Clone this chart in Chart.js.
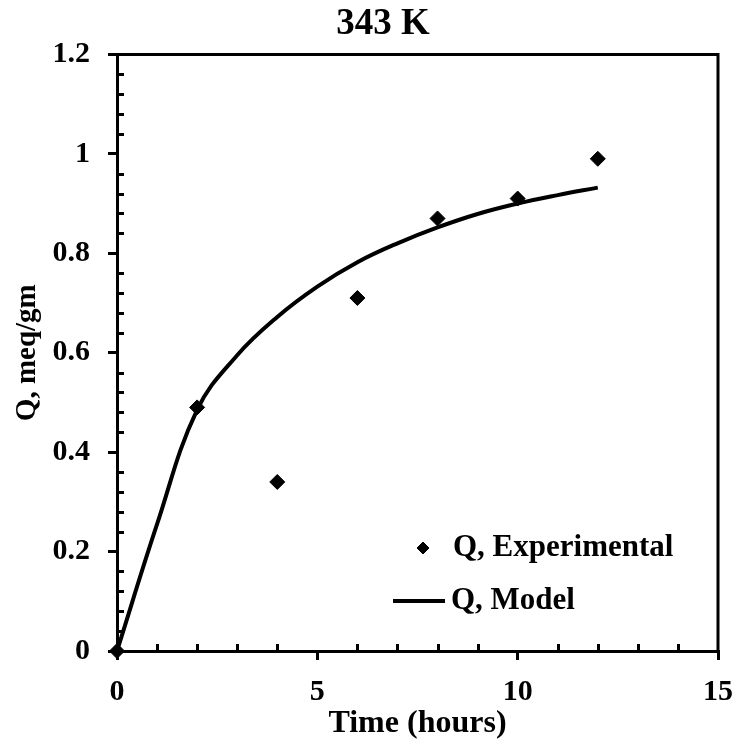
<!DOCTYPE html>
<html>
<head>
<meta charset="utf-8">
<script src="https://cdn.jsdelivr.net/npm/chart.js@4.4.1/dist/chart.umd.min.js"></script>
<style>
  html, body { margin: 0; padding: 0; background: #fff; }
</style>
</head>
<body>
<canvas id="qChart" width="740" height="750"></canvas>
<script>
// experimental points
const timeExp = [0, 2, 4, 6, 8, 10, 12];
const qExp = [0, 0.49, 0.34, 0.71, 0.87, 0.91, 0.99];

// model curve
const timeModel = [0, 1, 2, 3, 4, 5, 6, 7, 8, 9, 10, 11, 12];
const qModel = [0, 0.255, 0.485, 0.595, 0.672, 0.733, 0.782, 0.82, 0.852, 0.879, 0.9, 0.917, 0.932];

const xTicks = [0, 5, 10, 15];
const yTicks = [0, 0.2, 0.4, 0.6, 0.8, 1, 1.2];
const xMinorStep = 1;
const yMinorStep = 0.04;

const FONT = '"Liberation Serif", "Times New Roman", serif';

// minor ticks (inside), top/right frame, legend inside the plot
const extras = {
  id: 'extras',
  beforeDatasetsDraw(chart) {
    const { ctx, chartArea: a, scales: { x, y } } = chart;
    ctx.save();
    ctx.strokeStyle = '#000';
    ctx.lineWidth = 3;
    ctx.beginPath();
    for (let v = yMinorStep; v < 1.2 - 1e-6; v += yMinorStep) {
      if (Math.abs(v / 0.2 - Math.round(v / 0.2)) < 1e-6) continue;
      const py = Math.round(y.getPixelForValue(v)) + 0.5;
      ctx.moveTo(a.left, py);
      ctx.lineTo(a.left + 7, py);
    }
    for (let v = xMinorStep; v < 15; v += xMinorStep) {
      if (v % 5 === 0) continue;
      const px = Math.round(x.getPixelForValue(v)) + 0.5;
      ctx.moveTo(px, a.bottom);
      ctx.lineTo(px, a.bottom - 7);
    }
    // frame
    ctx.moveTo(a.left, a.top);
    ctx.lineTo(a.right, a.top);
    ctx.lineTo(a.right, a.bottom);
    ctx.stroke();
    ctx.restore();
  },
  afterDraw(chart) {
    const { ctx, chartArea: a } = chart;
    ctx.save();
    ctx.fillStyle = '#000';
    ctx.strokeStyle = '#000';
    ctx.font = 'bold 31px ' + FONT;
    ctx.textBaseline = 'middle';
    ctx.textAlign = 'left';
    const r1 = a.bottom - 103, r2 = a.bottom - 50;
    Chart.helpers.drawPoint(ctx, { pointStyle: 'rectRot', radius: 6, borderWidth: 1 }, a.left + 306, r1);
    ctx.fill();
    ctx.fillText('Q, Experimental', a.left + 336, r1);
    ctx.lineWidth = 4;
    ctx.beginPath();
    ctx.moveTo(a.left + 276, r2);
    ctx.lineTo(a.left + 328, r2);
    ctx.stroke();
    ctx.fillText('Q, Model', a.left + 334, r2);
    ctx.restore();
  }
};

new Chart(document.getElementById('qChart'), {
  type: 'scatter',
  data: {
    datasets: [
      {
        label: 'Q, Model',
        data: timeModel.map((t, i) => ({ x: t, y: qModel[i] })),
        showLine: true,
        borderColor: '#000',
        borderWidth: 4,
        pointRadius: 0,
        tension: 0.4,
        clip: 10,
      },
      {
        label: 'Q, Experimental',
        data: timeExp.map((t, i) => ({ x: t, y: qExp[i] })),
        pointStyle: 'rectRot',
        pointRadius: 7.5,
        backgroundColor: '#000',
        borderColor: '#000',
        borderWidth: 1,
        clip: 12,
      },
    ],
  },
  plugins: [extras],
  options: {
    responsive: false,
    animation: false,
    devicePixelRatio: 1,
    layout: { padding: { left: 48, right: 22, top: 0, bottom: 0 } },
    plugins: {
      legend: { display: false },
      tooltip: { enabled: false },
      title: {
        display: true,
        text: '343 K',
        color: '#000',
        font: { family: FONT, size: 37, weight: 'bold', lineHeight: 1.2 },
        padding: { top: 2, bottom: 8 },
      },
    },
    scales: {
      x: {
        type: 'linear',
        min: 0,
        max: 15,
        afterBuildTicks: (s) => { s.ticks = xTicks.map((v) => ({ value: v })); },
        afterFit: (s) => { s.height = 99; s.paddingRight = 0; s.paddingLeft = 0; },
        ticks: {
          color: '#000',
          padding: 14,
          maxRotation: 0,
          font: { family: FONT, size: 30, weight: 'bold' },
        },
        grid: { display: true, drawOnChartArea: false, drawTicks: true, tickLength: 9, lineWidth: 3, color: '#000' },
        border: { display: true, width: 3, color: '#000' },
        title: {
          display: true,
          text: 'Time (hours)',
          color: '#000',
          font: { family: FONT, size: 32, weight: 'bold', lineHeight: 1.2 },
          padding: { top: 0, bottom: 7 },
        },
      },
      y: {
        type: 'linear',
        min: 0,
        max: 1.2,
        afterBuildTicks: (s) => { s.ticks = yTicks.map((v) => ({ value: v })); },
        afterFit: (s) => { s.width = 69; s.paddingTop = 0; s.paddingBottom = 0; },
        ticks: {
          color: '#000',
          padding: 18,
          font: { family: FONT, size: 30, weight: 'bold' },
          callback: (v) => String(+Number(v).toFixed(1)),
        },
        grid: { display: true, drawOnChartArea: false, drawTicks: true, tickLength: 9, lineWidth: 3, color: '#000' },
        border: { display: true, width: 3, color: '#000' },
        title: {
          display: true,
          text: 'Q, meq/gm',
          color: '#000',
          font: { family: FONT, size: 29, weight: 'bold', lineHeight: 1.2 },
          padding: { top: -38, bottom: 0 },
        },
      },
    },
  },
});
</script>
</body>
</html>
